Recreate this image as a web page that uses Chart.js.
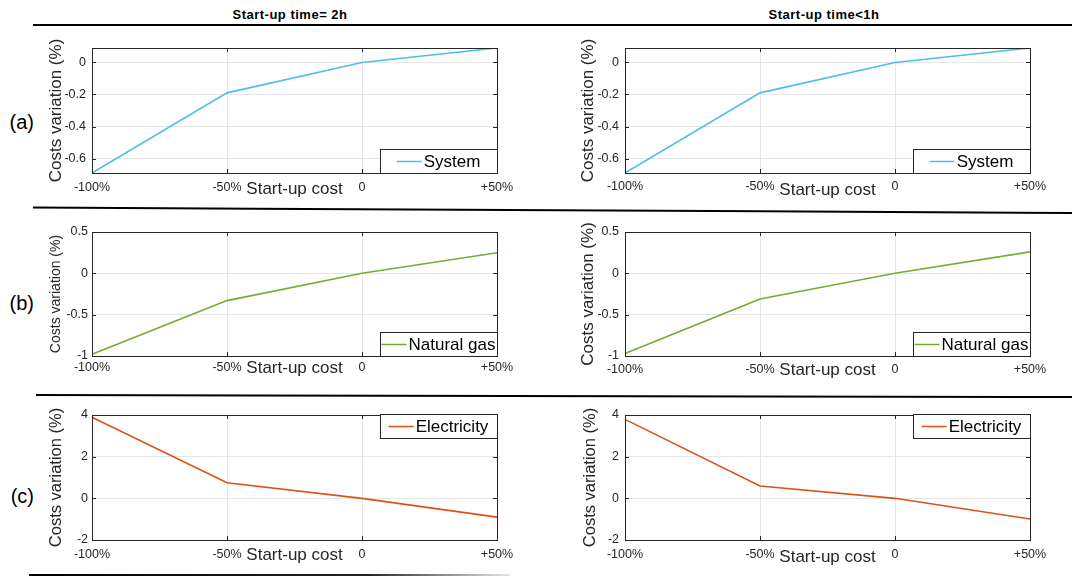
<!DOCTYPE html>
<html>
<head>
<meta charset="utf-8">
<script src="https://cdn.jsdelivr.net/npm/chart.js@4/dist/chart.umd.min.js"></script>
<style>
  body { margin: 0; background: #fff; }
  #page { position: relative; width: 1072px; height: 577px; overflow: hidden; font-family: "Liberation Sans", Arial, sans-serif; }
  #page canvas { position: absolute; }
  .col-title { position: absolute; width: 200px; text-align: center; font-weight: bold; font-size: 13px; letter-spacing: 0.5px; line-height: 18px; color: #000; }
  .row-label { position: absolute; left: 0; width: 34px; text-align: right; font-size: 20px; line-height: 24px; color: #000; }
  #lines { position: absolute; left: 0; top: 0; z-index: 2; }
</style>
</head>
<body>
<div id="page">
  <div class="col-title" style="left:190px; top:6px">Start-up time= 2h</div>
  <div class="col-title" style="left:724px; top:6px">Start-up time&lt;1h</div>
  <div class="row-label" style="top:110px">(a)</div>
  <div class="row-label" style="top:291px">(b)</div>
  <div class="row-label" style="top:484px">(c)</div>
  <svg id="lines" width="1072" height="577">
    <defs>
      <linearGradient id="fade" x1="29" y1="0" x2="510" y2="0" gradientUnits="userSpaceOnUse">
        <stop offset="0" stop-color="#000"/>
        <stop offset="0.7" stop-color="#222"/>
        <stop offset="1" stop-color="#e6e6e6"/>
      </linearGradient>
    </defs>
    <line x1="33" y1="25" x2="1072" y2="25" stroke="#000" stroke-width="2"/>
    <line x1="33" y1="207.5" x2="1072" y2="213" stroke="#000" stroke-width="2"/>
    <line x1="36" y1="395" x2="1072" y2="397" stroke="#000" stroke-width="2"/>
    <line x1="29" y1="575" x2="510" y2="575" stroke="url(#fade)" stroke-width="2"/>
  </svg>
</div>
<script>
// x categories (start-up cost change)
const categories = ['-100%', '-50%', '0', '+50%'];

// cost variation (%) - left column: start-up time = 2h, right column: < 1h
const systemSlow = [-0.69, -0.19, 0, 0.09];
const systemFast = [-0.69, -0.19, 0, 0.09];
const gasSlow = [-0.98, -0.33, 0, 0.25];
const gasFast = [-0.97, -0.31, 0, 0.26];
const elecSlow = [3.89, 0.75, 0, -0.9];
const elecFast = [3.79, 0.59, 0, -0.99];

// y axis limits [min, max, step]
const systemAxis = [-0.69, 0.09, 0.2];
const gasAxis = [-1, 0.5, 0.5];
const elecAxis = [-2, 4, 2];

const family = '"Liberation Sans", Arial, sans-serif';
const axisColor = '#262626';
const gridColor = '#e6e6e6';

Chart.register({
    id: 'boxLegend',
    afterDraw(chart, args, opts) {
        const ctx = chart.ctx;
        const a = chart.chartArea;
        const xs = chart.scales.x, ys = chart.scales.y;
        ctx.save();
        ctx.strokeStyle = axisColor;
        ctx.lineWidth = 1;
        ctx.beginPath();
        ys.ticks.forEach(t => {
            const py = Math.round(ys.getPixelForValue(t.value)) + 0.5;
            ctx.moveTo(a.left, py); ctx.lineTo(a.left + 4, py);
            ctx.moveTo(a.right, py); ctx.lineTo(a.right - 4, py);
        });
        xs.ticks.forEach((t, i) => {
            const px = Math.round(xs.getPixelForTick(i)) + 0.5;
            ctx.moveTo(px, a.bottom); ctx.lineTo(px, a.bottom - 4);
            ctx.moveTo(px, a.top); ctx.lineTo(px, a.top + 4);
        });
        ctx.stroke();
        ctx.strokeRect(Math.round(a.left) + 0.5, Math.round(a.top) + 0.5, Math.round(a.width), Math.round(a.height));

        // legend box inside the plot
        const ds = chart.data.datasets[0];
        const bw = 117, bh = 24;
        const bx = Math.round(a.right - bw);
        const by = opts.corner === 'top' ? Math.round(a.top) - 1 : Math.round(a.bottom - bh);
        ctx.fillStyle = '#fff';
        ctx.fillRect(bx, by, bw, bh);
        ctx.strokeRect(bx + 0.5, by + 0.5, bw, bh);
        ctx.font = '17px ' + family;
        const tw = ctx.measureText(ds.label).width;
        const start = bx + (bw - (27 + tw)) / 2;
        const cy = by + bh / 2 + 0.5;
        ctx.strokeStyle = ds.borderColor;
        ctx.lineWidth = 1.5;
        ctx.beginPath();
        ctx.moveTo(start, cy); ctx.lineTo(start + 25, cy);
        ctx.stroke();
        ctx.fillStyle = '#000';
        ctx.textBaseline = 'middle';
        ctx.fillText(ds.label, start + 27, cy + 1);
        ctx.restore();
    }
});

function makeChart(p) {
    const [x1, y1, x2, y2] = p.box;
    const w = x2 - x1 + 80, h = y2 - y1 + 44;
    const canvas = document.createElement('canvas');
    canvas.width = w;
    canvas.height = h;
    canvas.style.left = (x1 - 55) + 'px';
    canvas.style.top = (y1 - 12) + 'px';
    canvas.style.width = w + 'px';
    canvas.style.height = h + 'px';
    document.getElementById('page').appendChild(canvas);

    new Chart(canvas, {
        type: 'line',
        data: {
            labels: categories,
            datasets: [{
                label: p.label,
                data: p.data,
                borderColor: p.color,
                borderWidth: 1.6,
                pointRadius: 0,
                tension: 0
            }]
        },
        options: {
            responsive: false,
            animation: false,
            devicePixelRatio: 1,
            layout: { padding: { left: 0, right: 25, top: 12, bottom: 0 } },
            plugins: {
                legend: { display: false },
                tooltip: { enabled: false },
                boxLegend: { corner: p.legend }
            },
            scales: {
                x: {
                    type: 'category',
                    offset: false,
                    grid: { color: gridColor, drawTicks: false },
                    border: { display: false },
                    ticks: { font: { size: 12.5, family: family }, color: axisColor, padding: p.xTickPad, maxRotation: 0, autoSkip: false },
                    title: { display: true, text: 'Start-up cost', font: { size: 17, family: family }, color: axisColor, padding: { top: 0, bottom: p.xTitlePad } },
                    afterFit(s) { s.height = 32; s.paddingLeft = 0; s.paddingRight = 0; }
                },
                y: {
                    min: p.axis[0],
                    max: p.axis[1],
                    grid: { color: gridColor, drawTicks: false },
                    border: { display: false },
                    ticks: {
                        stepSize: p.axis[2],
                        includeBounds: false,
                        font: { size: 12.5, family: family },
                        color: axisColor,
                        padding: p.yTickPad,
                        callback: v => String(Math.round(v * 100) / 100)
                    },
                    title: { display: true, text: 'Costs variation (%)', font: { size: p.yTitleSize, family: family }, color: axisColor, padding: { top: p.yTitlePad, bottom: 0 } },
                    afterFit(s) { s.width = 55; s.paddingTop = 0; s.paddingBottom = 0; }
                }
            }
        }
    });
}

const panels = [
    { box: [92, 48, 497, 173], label: 'System', data: systemSlow, axis: systemAxis, color: '#4DBEEE', legend: 'bottom', yTitleSize: 17, yTitlePad: 8.8, xTitlePad: 5.8, xTickPad: 7.5, yTickPad: 6 },
    { box: [625, 48, 1030, 173], label: 'System', data: systemFast, axis: systemAxis, color: '#4DBEEE', legend: 'bottom', yTitleSize: 17, yTitlePad: 7.8, xTitlePad: 4.8, xTickPad: 6, yTickPad: 6 },
    { box: [92, 232, 497, 356], label: 'Natural gas', data: gasSlow, axis: gasAxis, color: '#77AC30', legend: 'bottom', yTitleSize: 14, yTitlePad: 11, xTitlePad: 9.3, xTickPad: 4.5, yTickPad: 4 },
    { box: [625, 232, 1030, 356], label: 'Natural gas', data: gasFast, axis: gasAxis, color: '#77AC30', legend: 'bottom', yTitleSize: 17, yTitlePad: 7.8, xTitlePad: 7.3, xTickPad: 6.5, yTickPad: 6 },
    { box: [92, 415, 497, 540], label: 'Electricity', data: elecSlow, axis: elecAxis, color: '#D95319', legend: 'top', yTitleSize: 16.5, yTitlePad: 10, xTitlePad: 6.3, xTickPad: 7.5, yTickPad: 4 },
    { box: [625, 415, 1030, 540], label: 'Electricity', data: elecFast, axis: elecAxis, color: '#D95319', legend: 'top', yTitleSize: 16.5, yTitlePad: 11, xTitlePad: 4.3, xTickPad: 7.5, yTickPad: 6 }
];

panels.forEach(makeChart);
</script>
</body>
</html>
